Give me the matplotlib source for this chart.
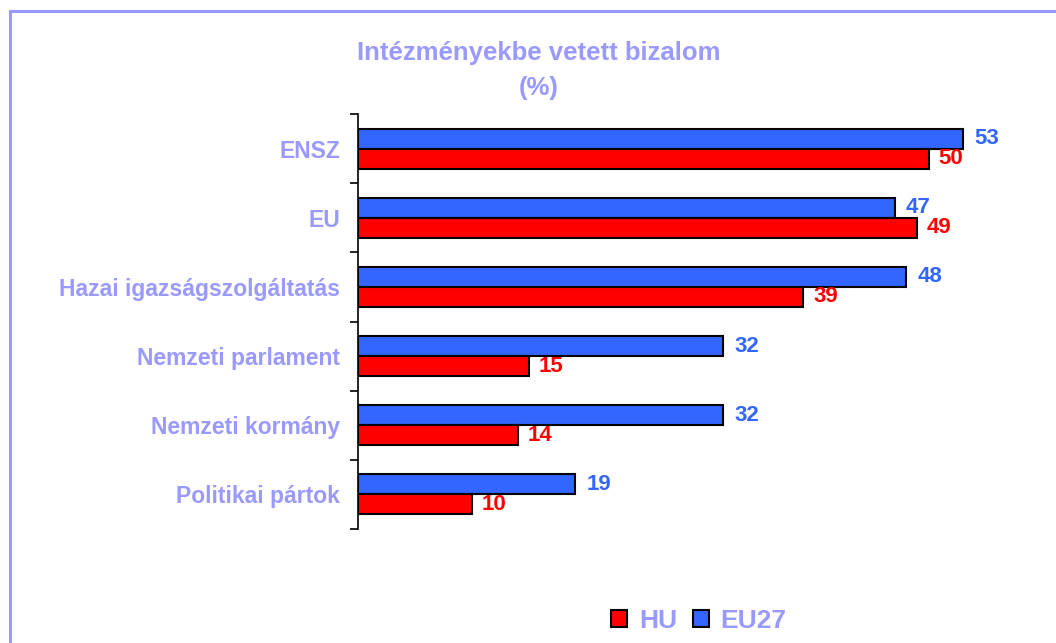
import matplotlib.pyplot as plt
import numpy as np
from matplotlib.patches import Rectangle

plt.rcParams['font.family'] = ['Liberation Sans', 'DejaVu Sans']

categories = ['ENSZ', 'EU', 'Hazai igazságszolgáltatás', 'Nemzeti parlament',
              'Nemzeti kormány', 'Politikai pártok']
eu27 = [53, 47, 48, 32, 32, 19]
hu = [50, 49, 39, 15, 14, 10]

lav = '#9999FF'
blue = '#3366FF'
red = '#FF0000'

fig = plt.figure(figsize=(10.56, 6.43), dpi=100)
fig.patches.append(Rectangle((10 / 1056, -0.05), 1.1, 1 - 11 / 643 + 0.05,
                             transform=fig.transFigure, fill=False,
                             edgecolor=lav, lw=2.2, zorder=0))

ax = fig.add_axes([358 / 1056, 1 - 529 / 643, 685 / 1056, 415 / 643])

n = len(categories)
y = np.arange(n)[::-1] + 0.5
h = 0.29
ax.barh(y + h / 2, eu27, height=h, color=blue, edgecolor='black', lw=1.5, label='EU27')
ax.barh(y - h / 2, hu, height=h, color=red, edgecolor='black', lw=1.5, label='HU')

for yi, v in zip(y, eu27):
    ax.text(v + 1.0, yi + h / 2, str(v), color=blue, fontsize=16, fontweight='bold',
            va='center', ha='left')
for yi, v in zip(y, hu):
    ax.text(v + 0.85, yi - h / 2, str(v), color=red, fontsize=16, fontweight='bold',
            va='center', ha='left')

ax.set_xlim(0, 60)
ax.set_ylim(0, n)
for s in ['top', 'right', 'bottom']:
    ax.spines[s].set_visible(False)
ax.spines['left'].set_linewidth(1.2)
ax.set_xticks([])
ax.set_yticks(np.arange(n + 1))
ax.set_yticklabels([])
ax.tick_params(axis='y', which='major', length=6, width=1.2, direction='out')
ax.set_yticks(y, minor=True)
ax.set_yticklabels(categories, minor=True, color=lav, fontsize=16.5, fontweight='bold')
ax.tick_params(axis='y', which='minor', length=0, pad=13)

fig.text(539 / 1056, 1 - 53 / 643, 'Intézményekbe vetett bizalom', color=lav,
         fontsize=18.5, fontweight='bold', ha='center', va='center')
fig.text(539 / 1056, 1 - 88 / 643, '(%)', color=lav,
         fontsize=18.5, fontweight='bold', ha='center', va='center')

handles, labels = ax.get_legend_handles_labels()
leg = fig.legend(handles[::-1], labels[::-1], loc='center', bbox_to_anchor=(699 / 1056, 1 - 621 / 643),
                 ncol=2, frameon=False, handlelength=0.6, handleheight=0.6,
                 handletextpad=0.45, columnspacing=0.6,
                 prop={'size': 19, 'weight': 'bold'})
for t in leg.get_texts():
    t.set_color(lav)

fig.savefig('out.png', dpi=100)
